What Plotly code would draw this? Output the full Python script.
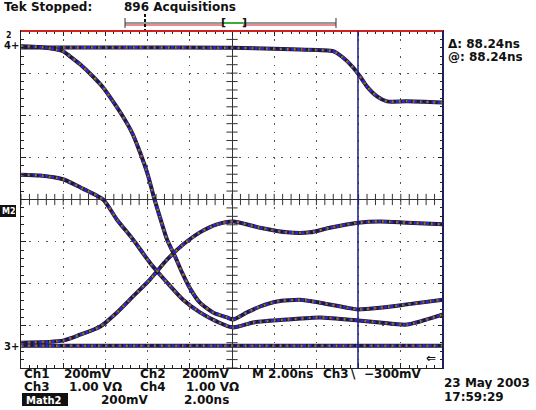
import numpy as np
import plotly.graph_objects as go

# waveform samples: time in ns (2 ns/div), level in divisions
t_a = [-10, -5, 0, 3.22, 4.79, 5.26, 5.73, 6.07, 6.40, 6.87, 7.35, 8.29, 10]
y_a = [3.61, 3.61, 3.60, 3.56, 3.52, 3.37, 3.14, 2.92, 2.68, 2.45, 2.33, 2.33, 2.30]

t_b = [-10, -9.10, -8.01, -7.68, -7.20, -6.59, -6.11, -5.64, -5.17, -4.74, -4.36, -3.98,
       -3.70, -3.41, -3.08, -2.70, -2.37, -1.99, -1.52, -0.90, -0.24, 0.05, 0.71, 1.33,
       2.13, 3.22, 4.17, 5.45, 5.97, 7.01, 8.29, 10]
y_b = [3.64, 3.62, 3.52, 3.40, 3.21, 2.92, 2.66, 2.33, 1.97, 1.59, 1.12, 0.57,
       0.05, -0.43, -0.95, -1.35, -1.73, -2.11, -2.45, -2.68, -2.80, -2.85, -2.68, -2.54,
       -2.42, -2.38, -2.45, -2.57, -2.61, -2.57, -2.49, -2.38]

t_c = [-10, -9.10, -8.01, -7.20, -6.11, -5.45, -4.69, -3.89, -3.08, -2.32, -1.52, -0.71,
       0.05, 1.00, 2.61, 4.17, 5.97, 7.01, 8.29, 10]
y_c = [0.59, 0.57, 0.48, 0.29, 0.0, -0.48, -0.95, -1.50, -1.97, -2.38, -2.68, -2.90,
       -3.04, -2.92, -2.85, -2.80, -2.87, -2.92, -2.97, -2.73]

t_d = [-10, -8.01, -7.20, -6.26, -5.45, -4.69, -3.89, -3.08, -2.32, -1.52, -0.71, 0.05,
       1.33, 2.61, 3.70, 4.64, 5.97, 7.01, 8.29, 10]
y_d = [-3.40, -3.35, -3.21, -3.02, -2.68, -2.30, -1.90, -1.43, -1.07, -0.78, -0.59, -0.52,
       -0.67, -0.78, -0.78, -0.67, -0.55, -0.52, -0.55, -0.59]

t_e = [-10, 0, 10]
y_e = [-3.47, -3.47, -3.47]

cursor_t = 5.97

W, H = 536, 410
L, R, T, B = 21, 443, 31, 368


def px(x):
    return (x - L) / (R - L)


def py(y):
    return (B - y) / (B - T)


fig = go.Figure()

# graticule ticks on the centre cross
gx = np.arange(-10, 10.01, 0.4)
gy = np.arange(-4, 4.01, 0.2)
fig.add_trace(go.Scatter(x=gx, y=[0] * len(gx), mode="markers",
                         marker=dict(symbol="line-ns", size=8, line=dict(color="#333", width=1))))
fig.add_trace(go.Scatter(x=[0] * len(gy), y=gy, mode="markers",
                         marker=dict(symbol="line-ew", size=8, line=dict(color="#333", width=1))))

# each waveform drawn as a mixed colour band like the persistence display
styles = [
    dict(color="#1c1c34", width=4, dash="solid"),
    dict(color="#2a2ad0", width=3, dash="3px,3px"),
    dict(color="#e02020", width=2.5, dash="2px,5px"),
    dict(color="#20c820", width=2, dash="1px,6px"),
]
for t, y in [(t_a, y_a), (t_b, y_b), (t_c, y_c), (t_d, y_d), (t_e, y_e)]:
    for s in styles:
        fig.add_trace(go.Scatter(x=t, y=y, mode="lines", line_shape="spline",
                                 line=dict(smoothing=0.6, **s)))

axis = dict(showgrid=True, gridcolor="#555", griddash="1.5px,6.9px", gridwidth=1,
            zeroline=True, zerolinecolor="#333", zerolinewidth=1,
            showline=True, linecolor="#222", linewidth=1, mirror="ticks",
            ticks="inside", ticklen=5, tickcolor="#222", showticklabels=False,
            minor=dict(ticks="inside", ticklen=3, tickcolor="#222", showgrid=False),
            fixedrange=True)

fig.update_xaxes(range=[-10, 10], dtick=2, minor_dtick=0.4, **axis)
fig.update_yaxes(range=[-4, 4], dtick=1, minor_dtick=0.2, **axis)

shapes = [
    # red top border
    dict(type="line", xref="paper", yref="paper", x0=0, x1=1, y0=1, y1=1,
         line=dict(color="#d02020", width=2)),
    # blue right border
    dict(type="line", xref="paper", yref="paper", x0=1, x1=1, y0=0, y1=1,
         line=dict(color="#20205a", width=2)),
    # cursor
    dict(type="line", xref="x", yref="paper", x0=cursor_t, x1=cursor_t, y0=0, y1=1,
         line=dict(color="#1a1a8a", width=1.5)),
    # record bar
    dict(type="line", xref="paper", yref="paper", x0=px(125), x1=px(336), y0=py(23), y1=py(23),
         line=dict(color="#333", width=1)),
    dict(type="line", xref="paper", yref="paper", x0=px(125), x1=px(222), y0=py(25), y1=py(25),
         line=dict(color="#d02020", width=1)),
    dict(type="line", xref="paper", yref="paper", x0=px(243), x1=px(336), y0=py(25), y1=py(25),
         line=dict(color="#d02020", width=1)),
    dict(type="line", xref="paper", yref="paper", x0=px(222), x1=px(243), y0=py(23), y1=py(23),
         line=dict(color="#20b020", width=1.5)),
    dict(type="line", xref="paper", yref="paper", x0=px(125), x1=px(125), y0=py(18), y1=py(28),
         line=dict(color="#333", width=1)),
    dict(type="line", xref="paper", yref="paper", x0=px(336), x1=px(336), y0=py(18), y1=py(28),
         line=dict(color="#333", width=1)),
    dict(type="line", xref="paper", yref="paper", x0=px(145), x1=px(145), y0=py(14), y1=py(30),
         line=dict(color="#111", width=2, dash="3px,2px")),
    # Math2 label box
    dict(type="rect", xref="paper", yref="paper", x0=px(22), x1=px(68), y0=py(393), y1=py(406),
         fillcolor="#111", line=dict(width=0)),
    dict(type="rect", xref="paper", yref="paper", x0=px(0), x1=px(16), y0=py(205), y1=py(217),
         fillcolor="#111", line=dict(width=0)),
]

FONT = "DejaVu Sans"


def label(text, x, y, size=12, color="#111", anchor="left"):
    return dict(text="<b>%s</b>" % text, x=px(x), y=py(y), xref="paper", yref="paper",
                xanchor=anchor, yanchor="middle", showarrow=False, height=size,
                font=dict(family=FONT, size=size, color=color))


annotations = [
    label("Tek Stopped:", 2, 7),
    label("896 Acquisitions", 122, 7),
    label("[", 219, 22, size=11),
    label("]", 240, 22, size=11),
    label("Δ: 88.24ns", 446, 44),
    label("@: 88.24ns", 446, 57),
    label("2", 4, 35, size=8),
    label("4+", 2, 45, size=10),
    label("3+", 2, 346, size=10),
    label("M2", 0, 211, size=8, color="white"),
    label("⇐", 424, 358),
    label("Ch1", 22, 374),
    label("200mV", 62, 374),
    label("Ch2", 138, 374),
    label("200mV", 180, 374),
    label("M 2.00ns", 250, 374),
    label("Ch3", 321, 374),
    label("\\", 349, 374),
    label("−300mV", 362, 374),
    label("Ch3", 22, 387),
    label("1.00 VΩ", 67, 387),
    label("Ch4", 138, 387),
    label("1.00 VΩ", 184, 387),
    label("Math2", 24, 399.5, size=10, color="white"),
    label("200mV", 99, 400),
    label("2.00ns", 182, 400),
    label("23 May 2003", 442, 383),
    label("17:59:29", 442, 397),
]

fig.update_layout(width=W, height=H, margin=dict(l=L, r=W - R, t=T, b=H - B),
                  paper_bgcolor="white", plot_bgcolor="white", showlegend=False,
                  hovermode=False, shapes=shapes, annotations=annotations)

fig.write_html("out.html", config={"displayModeBar": False},
               post_script="document.body.style.margin='0px';")
